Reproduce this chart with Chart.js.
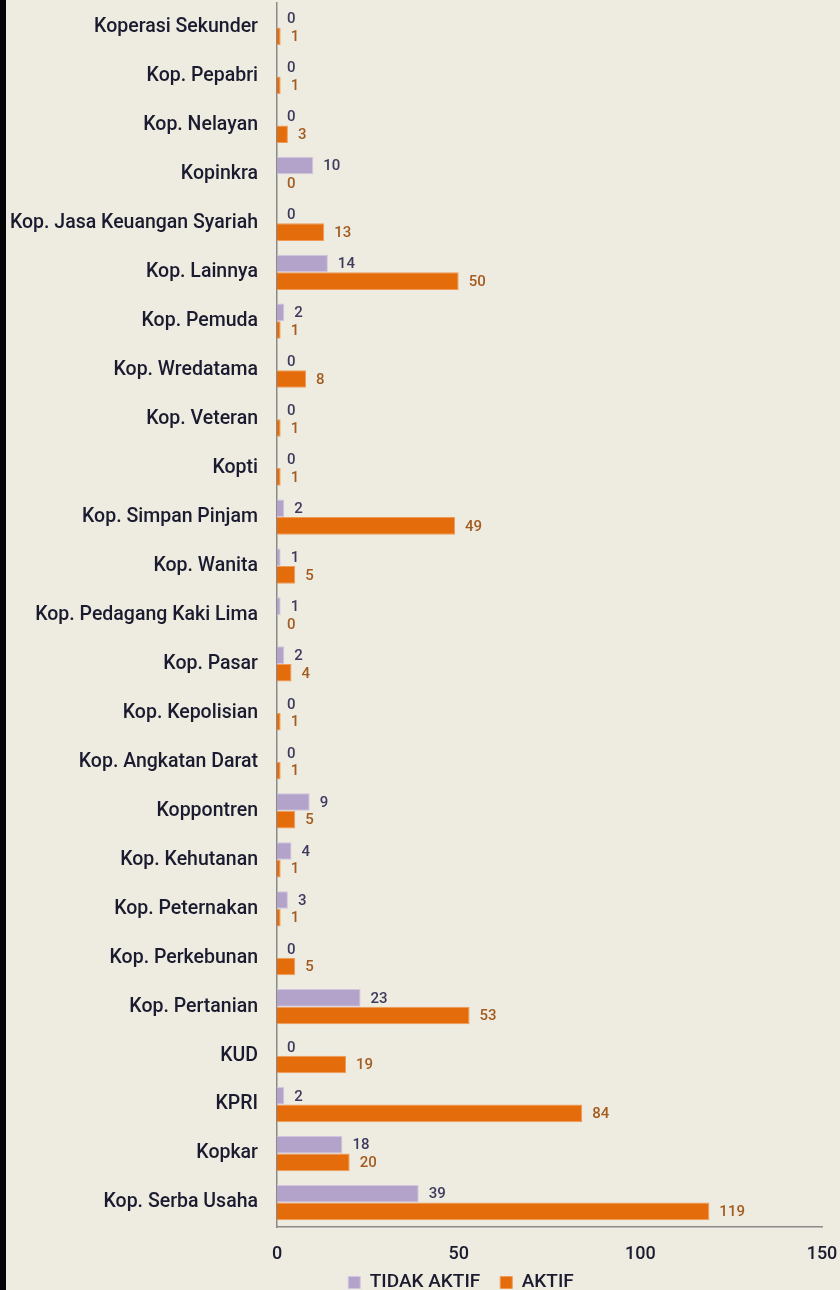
<!DOCTYPE html>
<html>
<head>
<meta charset="utf-8">
<script src="https://cdn.jsdelivr.net/npm/chart.js@4.4.0/dist/chart.umd.min.js"></script>
<style>
  html, body { margin: 0; padding: 0; background: #eeebe1; }
  body { width: 840px; height: 1290px; position: relative; overflow: hidden; }
  #strip { position: absolute; left: 0; top: 0; width: 6px; height: 1290px; background: #050505; }
  #wrap { position: absolute; left: 0; top: 0; width: 840px; height: 1290px; }
</style>
</head>
<body>
<div id="strip"></div>
<div id="wrap"><canvas id="barChart" width="840" height="1290"></canvas></div>
<script>
var categories = [
  "Koperasi Sekunder", "Kop. Pepabri", "Kop. Nelayan", "Kopinkra",
  "Kop. Jasa Keuangan Syariah", "Kop. Lainnya", "Kop. Pemuda", "Kop. Wredatama",
  "Kop. Veteran", "Kopti", "Kop. Simpan Pinjam", "Kop. Wanita",
  "Kop. Pedagang Kaki Lima", "Kop. Pasar", "Kop. Kepolisian", "Kop. Angkatan Darat",
  "Koppontren", "Kop. Kehutanan", "Kop. Peternakan", "Kop. Perkebunan",
  "Kop. Pertanian", "KUD", "KPRI", "Kopkar", "Kop. Serba Usaha"
];
var tidakAktif = [0, 0, 0, 10, 0, 14, 2, 0, 0, 0, 2, 1, 1, 2, 0, 0, 9, 4, 3, 0, 23, 0, 2, 18, 39];
var aktif      = [1, 1, 3, 0, 13, 50, 1, 8, 1, 1, 49, 5, 0, 4, 1, 1, 5, 1, 1, 5, 53, 19, 84, 20, 119];
var xTicks = [0, 50, 100, 150];

var fontFamily = "Roboto, 'DejaVu Sans', sans-serif";

// label angka di ujung batang
var valueLabels = {
  id: "valueLabels",
  afterDatasetsDraw: function(chart) {
    var ctx = chart.ctx;
    ctx.save();
    ctx.font = "500 15px " + fontFamily;
    ctx.textAlign = "left";
    ctx.textBaseline = "middle";
    chart.data.datasets.forEach(function(ds, i) {
      var meta = chart.getDatasetMeta(i);
      ctx.fillStyle = i === 0 ? "#3e3a5e" : "#a35c1f";
      meta.data.forEach(function(bar, j) {
        ctx.fillText(String(ds.data[j]), bar.x + 10, bar.y + 1);
      });
    });
    ctx.restore();
  }
};

// geser legend supaya posisinya sama dengan gambar
var legendShift = {
  id: "legendShift",
  afterLayout: function(chart) {
    var lg = chart.legend;
    lg.left += 47; lg.right += 47;
    lg.top -= 10;
  }
};

var ctx = document.getElementById("barChart").getContext("2d");
new Chart(ctx, {
  type: "bar",
  data: {
    labels: categories,
    datasets: [
      {
        label: "TIDAK AKTIF",
        data: tidakAktif,
        backgroundColor: "#b3a2c9",
        borderColor: "#d2c6de",
        borderWidth: 1,
        categoryPercentage: 0.72,
        barPercentage: 1.0
      },
      {
        label: "AKTIF",
        data: aktif,
        backgroundColor: "#e46c0a",
        borderColor: "#f09a55",
        borderWidth: 1,
        categoryPercentage: 0.72,
        barPercentage: 1.0
      }
    ]
  },
  options: {
    indexAxis: "y",
    responsive: false,
    animation: false,
    layout: { padding: { left: 6, right: 18, top: 3, bottom: 0 } },
    plugins: {
      legend: {
        position: "bottom",
        maxHeight: 27,
        labels: {
          boxWidth: 12,
          boxHeight: 12,
          padding: 20,
          color: "#1b1b2f",
          font: { family: fontFamily, size: 19, weight: "500" }
        }
      },
      tooltip: { enabled: false }
    },
    scales: {
      x: {
        min: 0,
        max: 150,
        afterBuildTicks: function(scale) {
          scale.ticks = xTicks.map(function(v) { return { value: v }; });
        },
        afterFit: function(scale) {
          scale.paddingLeft = 0; scale.paddingRight = 0;
          scale.height = 36;
        },
        grid: { display: false, drawTicks: false },
        border: { display: true, color: "#8a8a8a", width: 1.5 },
        ticks: {
          padding: 17,
          color: "#1b1b2f",
          font: { family: fontFamily, size: 18, weight: "500" }
        }
      },
      y: {
        grid: { display: false, drawTicks: false },
        border: { display: true, color: "#8a8a8a", width: 1.5 },
        afterFit: function(scale) {
          scale.width = 271;
          scale.paddingTop = 0; scale.paddingBottom = 0;
        },
        ticks: {
          padding: 19,
          autoSkip: false,
          color: "#1b1b2f",
          font: { family: fontFamily, size: 19.5, weight: "500" }
        }
      }
    }
  },
  plugins: [valueLabels, legendShift]
});
</script>
</body>
</html>
